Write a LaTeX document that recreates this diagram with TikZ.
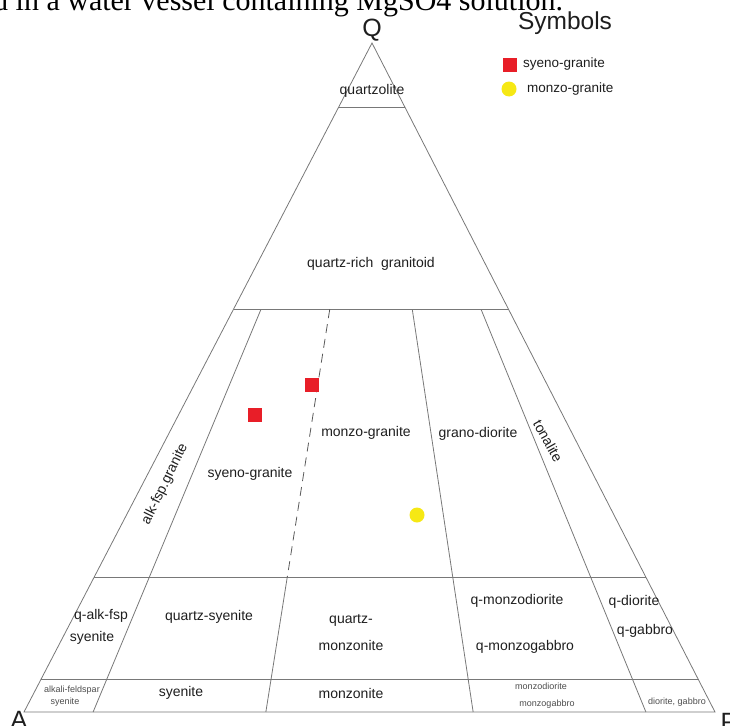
\documentclass[tikz,border=0pt]{standalone}
\usepackage{fontspec}
\setmainfont{Liberation Sans}
\newfontfamily\serifcap{Liberation Serif}
\usetikzlibrary{calc}
\definecolor{markred}{RGB}{232,30,40}
\definecolor{markyellow}{RGB}{246,232,20}
\definecolor{linegray}{RGB}{120,120,120}
\definecolor{txt}{RGB}{30,30,30}
\begin{document}
\begin{tikzpicture}[x=1pt,y=-1pt,
  edge/.style={draw=linegray, line width=0.8pt},
  dashline/.style={draw=black!65, line width=0.8pt, dash pattern=on 9pt off 6pt},
  lbl/.style={font=\fontsize{14}{16}\selectfont, text=txt, inner sep=0pt},
  tiny/.style={font=\fontsize{9}{10}\selectfont, text=black!70, inner sep=0pt},
  big/.style={font=\fontsize{25}{28}\selectfont, text=txt, inner sep=0pt},
  redmark/.style={fill=markred, draw=none, minimum width=14pt, minimum height=14pt, inner sep=0pt},
  yellowmark/.style={circle, fill=markyellow, draw=none, minimum size=15pt, inner sep=0pt}]
\useasboundingbox (0,0) rectangle (730,725);
\clip (0,0) rectangle (730,725);

% caption fragment cut at top
\node[font=\serifcap\fontsize{30}{32}\selectfont, text=black, anchor=base west, inner sep=0pt] (cap) at (-7,11) {d in a water vessel containing MgSO4 solution.};

% corners
\coordinate (Q) at (372,43);
\coordinate (A) at (24,712);
\coordinate (P) at (715,712);

% horizontal levels
\coordinate (L1) at ($(A)!0.904!(Q)$); \coordinate (R1) at ($(P)!0.904!(Q)$);
\coordinate (L2) at ($(A)!0.602!(Q)$); \coordinate (R2) at ($(P)!0.602!(Q)$);
\coordinate (L3) at ($(A)!0.201!(Q)$); \coordinate (R3) at ($(P)!0.201!(Q)$);
\coordinate (L4) at ($(A)!0.048!(Q)$); \coordinate (R4) at ($(P)!0.048!(Q)$);

% radial lines
\coordinate (B1) at ($(A)!0.10!(P)$);
\coordinate (B2) at ($(A)!0.35!(P)$);
\coordinate (B3) at ($(A)!0.65!(P)$);
\coordinate (B4) at ($(A)!0.90!(P)$);
\coordinate (U1) at ($(Q)!0.398!(B1)$);
\coordinate (U2) at ($(Q)!0.398!(B2)$);
\coordinate (U3) at ($(Q)!0.398!(B3)$);
\coordinate (U4) at ($(Q)!0.398!(B4)$);
\coordinate (M2) at ($(Q)!0.799!(B2)$);

\draw[edge] (A) -- (Q) -- (P) -- cycle;
\draw[edge] (L1) -- (R1);
\draw[edge] (L2) -- (R2);
\draw[edge] (L3) -- (R3);
\draw[edge] (L4) -- (R4);
\draw[edge] (U1) -- (B1);
\draw[dashline] (U2) -- (M2);
\draw[edge] (M2) -- (B2);
\draw[edge] (U3) -- (B3);
\draw[edge] (U4) -- (B4);

% corner labels
\node[big] (qlab) at (372,30) {Q};
\node[big] (alab) at (19,720) {A};
\node[big] (plab) at (729,722) {P};

% legend
\node[font=\fontsize{24.5}{28}\selectfont, text=txt, inner sep=0pt] (sym) at (565,23) {Symbols};
\node[redmark] (leg1) at (510,65) {};
\node[lbl, font=\fontsize{13.5}{15}\selectfont, anchor=west] (leg1t) at (523,64) {syeno-granite};
\node[yellowmark] (leg2) at (509,89) {};
\node[lbl, font=\fontsize{13.5}{15}\selectfont, anchor=west] (leg2t) at (527,89) {monzo-granite};

% field labels
\node[lbl] (f1) at (372,91) {quartzolite};
\node[lbl] (f2) at (371,264) {quartz-rich\ \ granitoid};
\node[lbl, rotate=64] (f3) at (165,484) {alk-fsp.granite};
\node[lbl] (f4) at (250,474) {syeno-granite};
\node[lbl] (f5) at (366,433) {monzo-granite};
\node[lbl] (f6) at (478,434) {grano-diorite};
\node[lbl, rotate=-61] (f7) at (548,441) {tonalite};

\node[lbl] (g1) at (101,616) {q-alk-fsp};
\node[lbl] (g2) at (92,638) {syenite};
\node[lbl] (g3) at (209,617) {quartz-syenite};
\node[lbl] (g4) at (351,620) {quartz-};
\node[lbl] (g5) at (351,645) {monzonite};
\node[lbl] (g6) at (517,601) {q-monzodiorite};
\node[lbl] (g7) at (525,647) {q-monzogabbro};
\node[lbl] (g8) at (634,602) {q-diorite};
\node[lbl] (g9) at (645,631) {q-gabbro};

\node[tiny] (h1) at (72,690) {alkali-feldspar};
\node[tiny] (h2) at (65,702) {syenite};
\node[lbl] (h3) at (181,693) {syenite};
\node[lbl] (h4) at (351,693) {monzonite};
\node[tiny] (h5) at (541,686) {monzodiorite};
\node[tiny] (h6) at (547,704) {monzogabbro};
\node[tiny] (h7) at (677,702) {diorite, gabbro};

% data points
\node[redmark] (s1) at (312,385) {};
\node[redmark] (s2) at (255,415) {};
\node[yellowmark] (m1) at (417,515) {};
\end{tikzpicture}
\end{document}
